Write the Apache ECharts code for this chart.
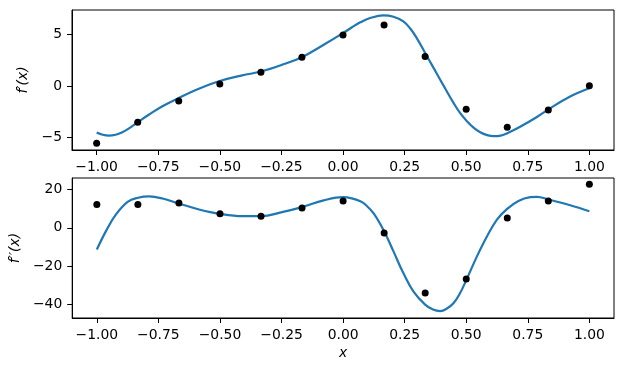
<!DOCTYPE html>
<html>
<head>
<meta charset="utf-8">
<script src="https://cdn.jsdelivr.net/npm/echarts@6/dist/echarts.min.js"></script>
<style>
html,body{margin:0;padding:0;background:#fff;}
#chart{width:624px;height:371px;}
</style>
</head>
<body>
<div id="chart"></div>
<script>
// Sample points (x = -1 .. 1 in 13 steps)
const pointX = [-1, -0.8333, -0.6667, -0.5, -0.3333, -0.1667, 0, 0.1667, 0.3333, 0.5, 0.6667, 0.8333, 1];
const topPointY = [-5.55, -3.5, -1.43, 0.22, 1.36, 2.82, 4.97, 5.94, 2.88, -2.24, -3.99, -2.31, 0.03];
const bottomPointY = [12.2, 12.2, 12.9, 7.3, 6.1, 10.3, 14.0, -2.7, -34.0, -26.7, 5.1, 14.0, 22.8];

// Curve f'(x)
const topCurveX = [-1, -0.975, -0.95, -0.923, -0.9, -0.875, -0.833, -0.787, -0.733, -0.667, -0.585, -0.5, -0.409, -0.333, -0.25, -0.167, -0.08, 0, 0.035, 0.07, 0.11, 0.164, 0.205, 0.245, 0.273, 0.3, 0.333, 0.367, 0.394, 0.42, 0.448, 0.475, 0.503, 0.53, 0.557, 0.585, 0.611, 0.64, 0.665, 0.719, 0.787, 0.834, 0.922, 1.0];
const topCurveY = [-4.5, -4.72, -4.8, -4.72, -4.52, -4.2, -3.5, -2.75, -1.95, -1.15, -0.25, 0.5, 1.05, 1.42, 2.05, 2.82, 4.0, 5.15, 5.7, 6.2, 6.62, 6.88, 6.75, 6.3, 5.6, 4.65, 3.25, 1.8, 0.65, -0.45, -1.6, -2.6, -3.4, -4.02, -4.48, -4.76, -4.86, -4.8, -4.6, -3.95, -3.0, -2.25, -1.0, -0.2];

// Curve f''(x)
const bottomCurveX = [-1, -0.963, -0.923, -0.875, -0.833, -0.787, -0.733, -0.667, -0.585, -0.5, -0.409, -0.333, -0.248, -0.167, -0.079, 0, 0.035, 0.07, 0.09, 0.124, 0.167, 0.205, 0.245, 0.286, 0.333, 0.365, 0.394, 0.42, 0.448, 0.475, 0.5, 0.543, 0.584, 0.624, 0.665, 0.712, 0.76, 0.787, 0.834, 0.922, 1.0];
const bottomCurveY = [-11.3, -1.7, 6.9, 13.6, 15.7, 16.4, 15.3, 12.7, 9.6, 7.3, 6.1, 6.1, 8.2, 10.8, 14.3, 16.0, 15.4, 13.9, 12.2, 7.5, -1.9, -12.4, -23.7, -33.2, -40.0, -42.6, -43.4, -42.2, -39.3, -34.0, -27.3, -15.0, -4.5, 4.2, 9.8, 14.0, 16.0, 16.2, 14.8, 11.8, 8.7];

// Tick labels
const xTicks = [-1, -0.75, -0.5, -0.25, 0, 0.25, 0.5, 0.75, 1];
const topYTicks = [-5, 0, 5];
const bottomYTicks = [-40, -20, 0, 20];

const zip = (a, b) => a.map((v, i) => [v, b[i]]);
const fmtMinus = s => String(s).replace('-', '\u2212');
const FONT = 'DejaVu Sans';
const FS = 13.9;

function xAxis(gridIndex, name) {
  return {
    type: 'value', gridIndex, min: -1.1, max: 1.1,
    name: name || '', nameLocation: 'middle', nameGap: 28,
    nameTextStyle: {fontFamily: FONT, fontSize: FS, fontStyle: 'italic', color: '#000'},
    axisLine: {show: true, onZero: false, lineStyle: {color: '#000', width: 1}},
    axisTick: {show: true, length: 5, customValues: xTicks, lineStyle: {color: '#000', width: 1}},
    axisLabel: {show: true, customValues: xTicks, margin: 10, fontFamily: FONT, fontSize: FS, color: '#000',
      formatter: v => fmtMinus(v.toFixed(2))},
    splitLine: {show: false}
  };
}
function yAxis(gridIndex, min, max, ticks, name, gap) {
  return {
    type: 'value', gridIndex, min, max,
    name, nameLocation: 'middle', nameGap: gap,
    nameTextStyle: {fontFamily: FONT, fontSize: FS, fontStyle: 'italic', color: '#000'},
    axisLine: {show: true, onZero: false, lineStyle: {color: '#000', width: 1}},
    axisTick: {show: true, length: 5, customValues: ticks, lineStyle: {color: '#000', width: 1}},
    axisLabel: {show: true, customValues: ticks, margin: 10, fontFamily: FONT, fontSize: FS, color: '#000',
      formatter: v => fmtMinus(v)},
    splitLine: {show: false}
  };
}

const chart = echarts.init(document.getElementById('chart'), null, {renderer: 'canvas'});
chart.setOption({
  animation: false,
  backgroundColor: '#fff',
  grid: [
    {left: 72, top: 10, width: 542, height: 140, show: true, borderColor: '#000', borderWidth: 1, backgroundColor: 'transparent'},
    {left: 72, top: 178, width: 542, height: 140, show: true, borderColor: '#000', borderWidth: 1, backgroundColor: 'transparent'}
  ],
  xAxis: [xAxis(0), xAxis(1, 'x')],
  yAxis: [
    yAxis(0, -6.2, 7.4, topYTicks, 'f\u2032(x)', 38),
    yAxis(1, -47, 26, bottomYTicks, 'f\u2032\u2032(x)', 47)
  ],
  series: [
    {type: 'line', xAxisIndex: 0, yAxisIndex: 0, data: zip(topCurveX, topCurveY), smooth: 0.4, showSymbol: false,
      lineStyle: {color: '#1f77b4', width: 2.2}, z: 2},
    {type: 'scatter', xAxisIndex: 0, yAxisIndex: 0, data: zip(pointX, topPointY), symbolSize: 7,
      itemStyle: {color: '#000', opacity: 1}, z: 3},
    {type: 'line', xAxisIndex: 1, yAxisIndex: 1, data: zip(bottomCurveX, bottomCurveY), smooth: 0.4, showSymbol: false,
      lineStyle: {color: '#1f77b4', width: 2.2}, z: 2},
    {type: 'scatter', xAxisIndex: 1, yAxisIndex: 1, data: zip(pointX, bottomPointY), symbolSize: 7,
      itemStyle: {color: '#000', opacity: 1}, z: 3}
  ]
});
</script>
</body>
</html>
